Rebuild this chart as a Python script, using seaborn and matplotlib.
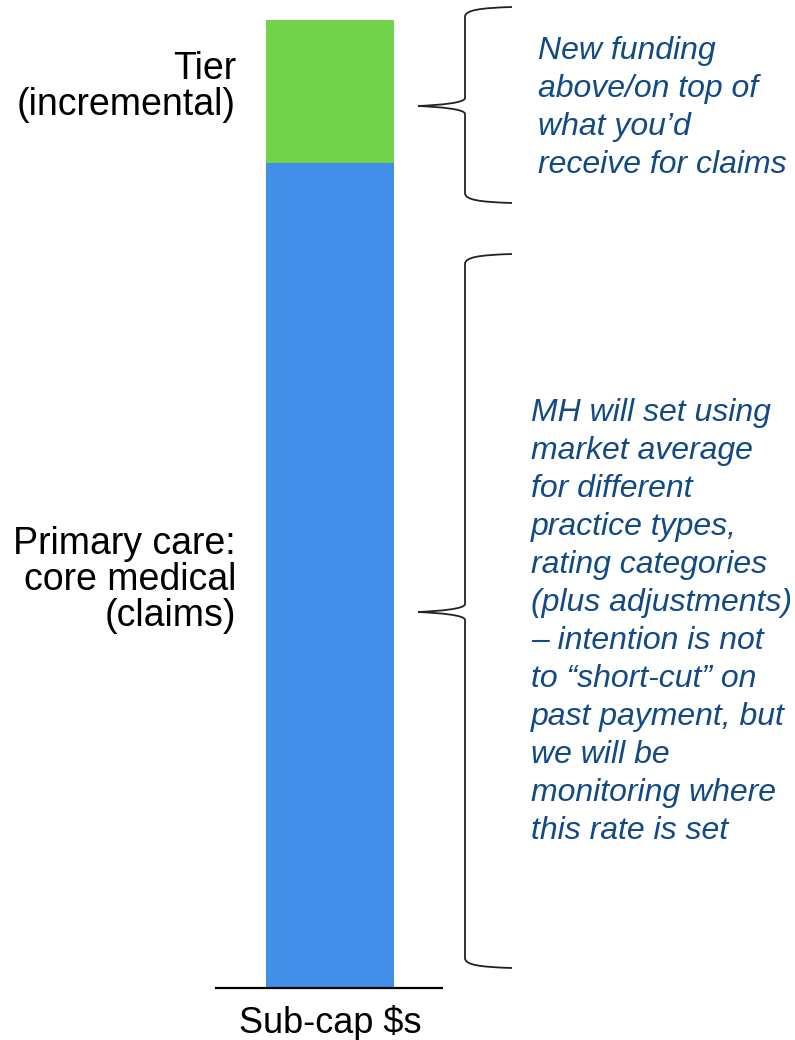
import matplotlib
matplotlib.use("Agg")
import matplotlib.pyplot as plt
from matplotlib.path import Path
from matplotlib.patches import PathPatch
import seaborn as sns

sns.set_style("white")
plt.rcParams["font.family"] = ["Liberation Sans", "DejaVu Sans"]

# data
category = ["Sub-cap \\$s"]
primary_care = [85.2]   # core medical (claims)
tier = [14.8]           # incremental
seg_labels = ["Tier\n(incremental)", "Primary care:\ncore medical\n(claims)"]
notes = [
    "New funding\nabove/on top of\nwhat you\u2019d\nreceive for claims",
    "MH will set using\nmarket average\nfor different\npractice types,\nrating categories\n(plus adjustments)\n"
    "\u2013 intention is not\nto \u201cshort-cut\u201d on\npast payment, but\nwe will be\nmonitoring where\nthis rate is set",
]

blue = "#418FE8"
green = "#71D24C"
note_col = "#124A84"

W, H = 795, 1040
fig = plt.figure(figsize=(W / 100, H / 100), dpi=100)

# bar axes: full figure, y scale 968px = 100 units, baseline at px 988
ax = fig.add_axes([0, 0, 1, 1])
total = [p + t for p, t in zip(primary_care, tier)]
sns.barplot(x=category, y=total, color=green, saturation=1, width=0.8,
            linewidth=0, ax=ax)
sns.barplot(x=category, y=primary_care, color=blue, saturation=1, width=0.8,
            linewidth=0, ax=ax)
upx = 100 / 968
ax.set_ylim(-(H - 988) * upx, 100 + 20 * upx)
ax.set_xlim(-330 / 160, (W - 330) / 160)
ax.hlines(0, (215 - 330) / 160, (443 - 330) / 160, color="black", lw=1.6)
ax.axis("off")
ax.text(0, -35 * upx, category[0], ha="center", va="center", fontsize=26,
        color="black")

# overlay in pixel coords for labels and braces
ov = fig.add_axes([0, 0, 1, 1], facecolor="none")
ov.set_xlim(0, W)
ov.set_ylim(H, 0)
ov.axis("off")

ov.text(236, 87, seg_labels[0], ha="right", va="center", fontsize=27,
        linespacing=0.99, color="black")
ov.text(236, 580, seg_labels[1], ha="right", va="center", fontsize=27,
        linespacing=0.99, color="black")

ov.text(538, 108, notes[0], ha="left", va="center", fontsize=23,
        style="italic", color=note_col, linespacing=1.36)
ov.text(531, 622, notes[1], ha="left", va="center", fontsize=23,
        style="italic", color=note_col, linespacing=1.345)


def brace(yt, ym, yb, xv=465, xe=512, xt=418):
    verts = [
        (xe, yt), (480, yt + 1), (xv, yt + 3), (xv, yt + 10),
        (xv, ym - 8),
        (xv, ym - 3), (440, ym - 1), (xt, ym),
        (440, ym + 1), (xv, ym + 3), (xv, ym + 8),
        (xv, yb - 10),
        (xv, yb - 3), (480, yb - 1), (xe, yb),
    ]
    codes = [Path.MOVETO, Path.CURVE4, Path.CURVE4, Path.CURVE4,
             Path.LINETO,
             Path.CURVE4, Path.CURVE4, Path.CURVE4,
             Path.CURVE4, Path.CURVE4, Path.CURVE4,
             Path.LINETO,
             Path.CURVE4, Path.CURVE4, Path.CURVE4]
    ov.add_patch(PathPatch(Path(verts, codes), fill=False, ec="#222222", lw=1.3))


brace(7, 106, 203)
brace(254, 612, 968)

fig.savefig("out.png", dpi=100)
